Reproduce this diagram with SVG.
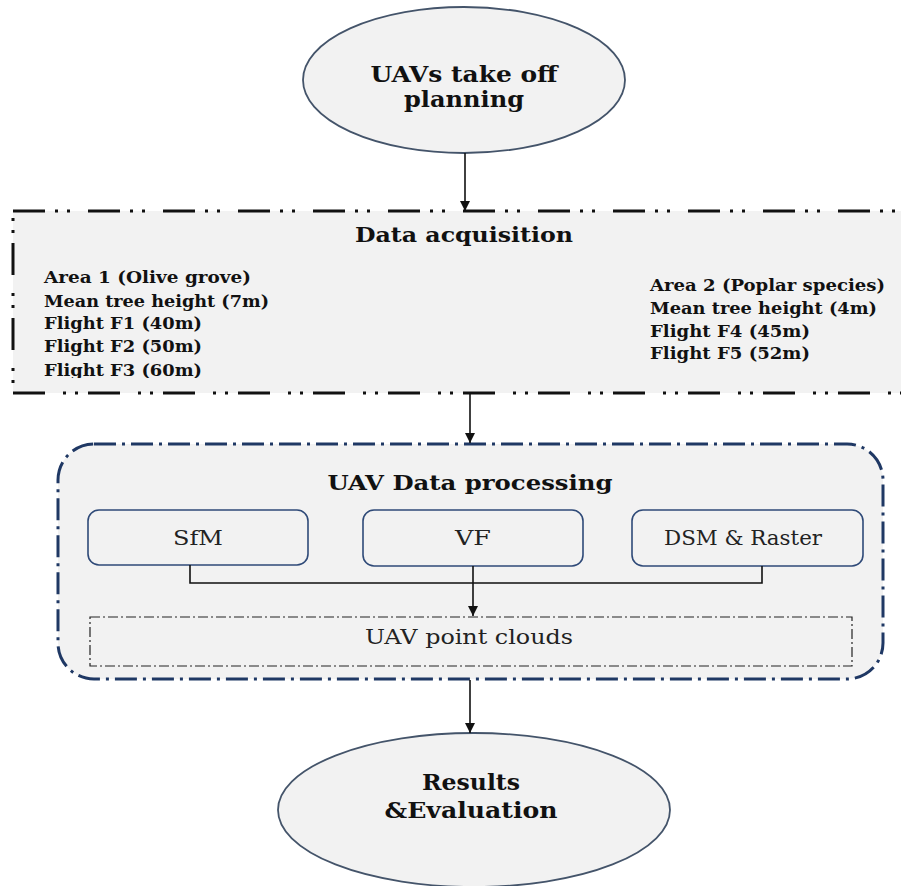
<svg xmlns="http://www.w3.org/2000/svg" width="901" height="886" viewBox="0 0 901 886" font-family="DejaVu Serif, serif">
<defs>
<style>
.fill{fill:#f2f2f2}
.ell{fill:#f2f2f2;stroke:#44546a;stroke-width:1.8}
.sub{fill:#f2f2f2;stroke:#2f4a78;stroke-width:1.6}
.b{font-weight:bold;fill:#111}
.r{fill:#222}
.conn{stroke:#111;stroke-width:1.6;fill:none}
</style>
<marker id="arr" viewBox="0 0 10 10" refX="10" refY="5" markerWidth="10" markerHeight="10" markerUnits="userSpaceOnUse" orient="auto">
<path d="M0,0 L10,5 L0,10 z" fill="#111"/>
</marker>
<clipPath id="clipL"><rect x="0" y="200" width="450" height="178"/></clipPath>
</defs>
<rect width="901" height="886" fill="#fff"/>

<g id="takeoff">
<ellipse class="ell" cx="464" cy="80" rx="161" ry="73"/>
<text class="b" x="464" y="82" font-size="22" text-anchor="middle" textLength="187" lengthAdjust="spacingAndGlyphs">UAVs take off</text>
<text class="b" x="464" y="107" font-size="22" text-anchor="middle" textLength="120" lengthAdjust="spacingAndGlyphs">planning</text>
</g>

<g id="acquisition">
<rect x="13" y="211" width="900" height="182" class="fill" stroke="#111" stroke-width="3" stroke-dasharray="32 10 3 9 3 18"/>
<text class="b" x="464" y="242" font-size="21" text-anchor="middle" textLength="218" lengthAdjust="spacingAndGlyphs">Data acquisition</text>
<g clip-path="url(#clipL)">
<text class="b" x="44" y="283" font-size="17" textLength="207" lengthAdjust="spacingAndGlyphs">Area 1 (Olive grove)</text>
<text class="b" x="44" y="307" font-size="17" textLength="225" lengthAdjust="spacingAndGlyphs">Mean tree height (7m)</text>
<text class="b" x="44" y="329" font-size="17" textLength="158" lengthAdjust="spacingAndGlyphs">Flight F1 (40m)</text>
<text class="b" x="44" y="352" font-size="17" textLength="158" lengthAdjust="spacingAndGlyphs">Flight F2 (50m)</text>
<text class="b" x="44" y="376" font-size="17" textLength="158" lengthAdjust="spacingAndGlyphs">Flight F3 (60m)</text>
</g>
<text class="b" x="650" y="291" font-size="17" textLength="235" lengthAdjust="spacingAndGlyphs">Area 2 (Poplar species)</text>
<text class="b" x="650" y="314" font-size="17" textLength="227" lengthAdjust="spacingAndGlyphs">Mean tree height (4m)</text>
<text class="b" x="650" y="337" font-size="17" textLength="160" lengthAdjust="spacingAndGlyphs">Flight F4 (45m)</text>
<text class="b" x="650" y="359" font-size="17" textLength="160" lengthAdjust="spacingAndGlyphs">Flight F5 (52m)</text>
</g>

<g id="processing">
<rect x="58" y="444" width="825" height="235" rx="36" ry="36" class="fill" stroke="#1f3864" stroke-width="3" stroke-dasharray="22 6 3 6"/>
<text class="b" x="470" y="490" font-size="21" text-anchor="middle" textLength="285" lengthAdjust="spacingAndGlyphs">UAV Data processing</text>
</g>

<g id="sfm">
<rect class="sub" x="88" y="510" width="220" height="55" rx="11"/>
<text class="r" x="198" y="545" font-size="21" text-anchor="middle" textLength="50" lengthAdjust="spacingAndGlyphs">SfM</text>
</g>
<g id="vf">
<rect class="sub" x="363" y="510" width="220" height="56" rx="11"/>
<text class="r" x="473" y="545" font-size="21" text-anchor="middle" textLength="36" lengthAdjust="spacingAndGlyphs">VF</text>
</g>
<g id="dsm">
<rect class="sub" x="632" y="510" width="231" height="56" rx="11"/>
<text class="r" x="743" y="545" font-size="21" text-anchor="middle" textLength="158" lengthAdjust="spacingAndGlyphs">DSM &amp; Raster</text>
</g>
<g id="pointclouds">
<rect x="90" y="617" width="762" height="49" fill="none" stroke="#222" stroke-width="1.2" stroke-dasharray="10 3 2 3"/>
<text class="r" x="469" y="644" font-size="21" text-anchor="middle" textLength="208" lengthAdjust="spacingAndGlyphs">UAV point clouds</text>
</g>

<g id="results">
<ellipse class="ell" cx="474" cy="810" rx="196" ry="77"/>
<text class="b" x="471" y="790" font-size="23" text-anchor="middle" textLength="98" lengthAdjust="spacingAndGlyphs">Results</text>
<text class="b" x="471" y="818" font-size="23" text-anchor="middle" textLength="173" lengthAdjust="spacingAndGlyphs">&amp;Evaluation</text>
</g>

<g id="connectors">
<line class="conn" x1="465" y1="153" x2="465" y2="211" marker-end="url(#arr)"/>
<line class="conn" x1="470" y1="393" x2="470" y2="443" marker-end="url(#arr)"/>
<polyline class="conn" points="190,565 190,583 762,583 762,566"/>
<line class="conn" x1="473" y1="566" x2="473" y2="616" marker-end="url(#arr)"/>
<line class="conn" x1="470" y1="680" x2="470" y2="733" marker-end="url(#arr)"/>
</g>
</svg>
